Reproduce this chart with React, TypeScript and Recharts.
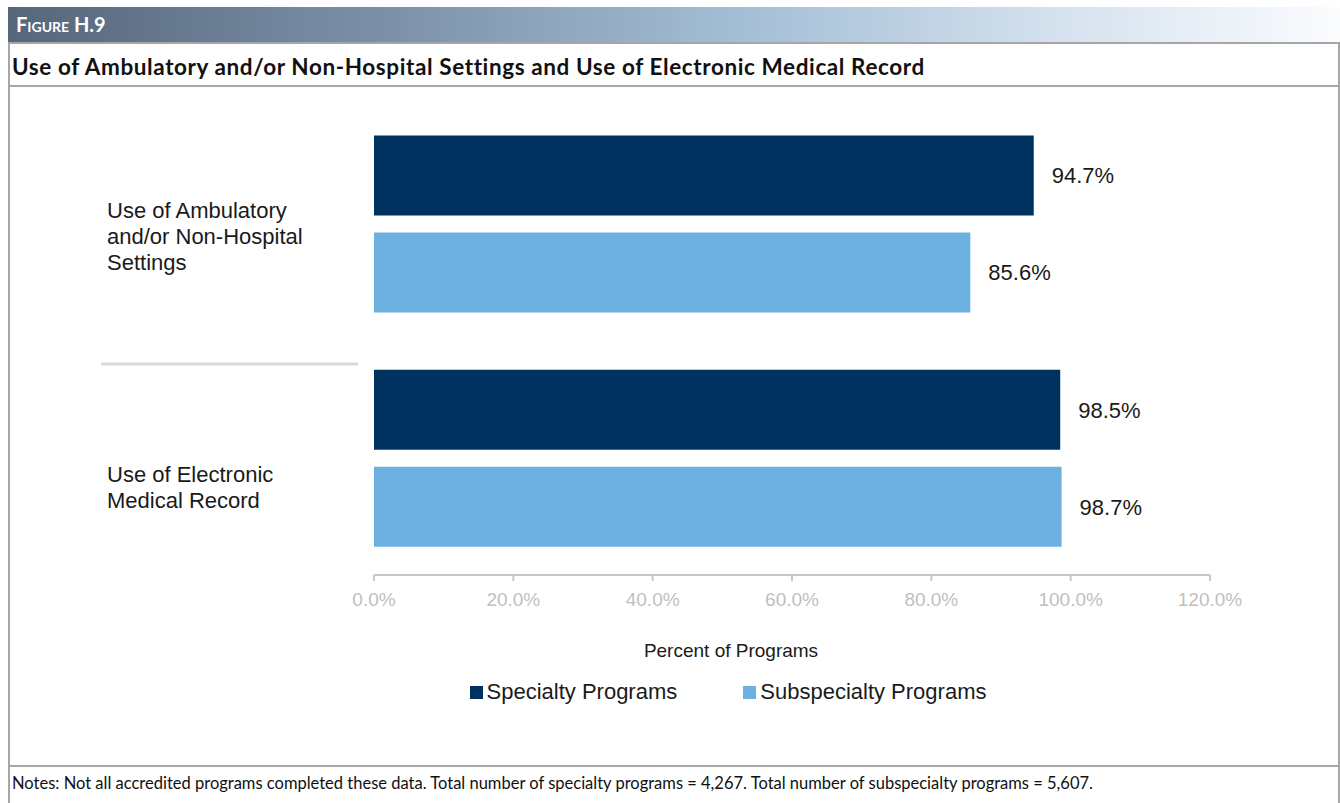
import { Bar, BarChart, Label, LabelList, Legend, XAxis, YAxis } from "recharts";

const categories = [
  "Use of Ambulatory and/or Non-Hospital Settings",
  "Use of Electronic Medical Record",
];
const categoryLines = [
  ["Use of Ambulatory", "and/or Non-Hospital", "Settings"],
  ["Use of Electronic", "Medical Record"],
];
const specialty = [94.7, 98.5];
const subspecialty = [85.6, 98.7];
const seriesNames = ["Specialty Programs", "Subspecialty Programs"];
const xTicks = [0, 20, 40, 60, 80, 100, 120];

const DARK = "#00325f";
const LIGHT = "#6db1e1";
const BORDER = "#a6a6a6";
const FONT = "'Liberation Sans', Arial, sans-serif";
const TITLE_FONT = "Lato, 'Open Sans', sans-serif";

const data = categories.map((name, i) => ({
  name,
  specialty: specialty[i],
  subspecialty: subspecialty[i],
}));

const pct = (v: number) => `${Number(v).toFixed(1)}%`;

// category label, left aligned, with the grey divider above the 2nd group
const CategoryTick = (props: any) => {
  const { y, index } = props;
  const lines = categoryLines[index] || [];
  const shift = index === 0 ? 12 : 29;
  const top = y + shift - ((lines.length - 1) * 26) / 2;
  return (
    <g>
      {index === 1 && (
        <line x1={101} x2={358} y1={y - 94} y2={y - 94} stroke="#d9d9d9" strokeWidth={3} />
      )}
      <text x={107} y={top} fontSize={22} fill="#1a1a1a" fontFamily={FONT} dominantBaseline="central">
        {lines.map((l, i) => (
          <tspan key={i} x={107} y={top + i * 26}>
            {l}
          </tspan>
        ))}
      </text>
    </g>
  );
};

const LegendContent = () => (
  <div
    style={{
      display: "flex",
      justifyContent: "center",
      paddingLeft: 246,
      paddingTop: 14,
      fontFamily: FONT,
      fontSize: 22,
      lineHeight: "26px",
      color: "#1a1a1a",
    }}
  >
    {seriesNames.map((n, i) => (
      <div key={n} style={{ display: "flex", alignItems: "center", marginRight: i === 0 ? 66 : 0 }}>
        <span style={{ width: 13, height: 13, background: i === 0 ? DARK : LIGHT, marginRight: 4 }} />
        {n}
      </div>
    ))}
  </div>
);

export default function App() {
  return (
    <div
      style={{
        position: "absolute",
        left: 0,
        top: 0,
        width: 1340,
        height: 803,
        background: "#fff",
        fontFamily: FONT,
        overflow: "hidden",
      }}
    >
      {/* frame */}
      <div
        style={{
          position: "absolute",
          left: 8,
          top: 7,
          width: 1332,
          height: 800,
          borderLeft: `2px solid ${BORDER}`,
          borderRight: `2px solid ${BORDER}`,
          boxSizing: "border-box",
        }}
      />
      <div
        style={{
          position: "absolute",
          left: 8,
          top: 7,
          width: 1332,
          height: 37,
          background:
            "linear-gradient(to right, #56667b 0%, #7b90a8 28%, #a3bed6 55%, #d7e3ef 80%, #fbfcfe 100%)",
          borderBottom: `2px solid ${BORDER}`,
          boxSizing: "border-box",
        }}
      >
        <div
          style={{
            position: "absolute",
            left: 8,
            top: 6,
            color: "#fff",
            fontFamily: TITLE_FONT,
            fontWeight: 700,
            fontSize: 20,
            fontVariant: "small-caps",
            lineHeight: "22px",
          }}
        >
          Figure H.9
        </div>
      </div>
      <div
        style={{
          position: "absolute",
          left: 12,
          top: 53,
          fontFamily: TITLE_FONT,
          fontWeight: 700,
          fontSize: 22.5,
          letterSpacing: 0.6,
          lineHeight: "28px",
          color: "#111",
          whiteSpace: "nowrap",
        }}
      >
        Use of Ambulatory and/or Non-Hospital Settings and Use of Electronic Medical Record
      </div>
      <div style={{ position: "absolute", left: 8, top: 85, width: 1332, height: 2, background: BORDER }} />
      <div style={{ position: "absolute", left: 8, top: 765, width: 1332, height: 2, background: BORDER }} />
      <div
        style={{
          position: "absolute",
          left: 12,
          top: 773,
          fontFamily: TITLE_FONT,
          fontSize: 16.5,
          lineHeight: "20px",
          color: "#111",
          whiteSpace: "nowrap",
        }}
      >
        Notes: Not all accredited programs completed these data. Total number of specialty programs = 4,267. Total
        number of subspecialty programs = 5,607.
      </div>

      <div style={{ position: "absolute", left: 0, top: 0 }}>
        <BarChart
          width={1340}
          height={715}
          data={data}
          layout="vertical"
          margin={{ top: 106.5, right: 130, left: 0, bottom: 10 }}
          barGap={17}
          barSize={80}
        >
          <XAxis
            type="number"
            domain={[0, 120]}
            ticks={xTicks}
            tickFormatter={pct}
            interval={0}
            height={90}
            stroke="#c8c8c8"
            strokeWidth={2}
            tickSize={6}
            tickMargin={12}
            tick={{ fill: "#bfbfbf", fontSize: 19, fontFamily: FONT }}
          >
            <Label
              content={(p: any) => {
                const vb = p.viewBox;
                return (
                  <text
                    x={vb.x + vb.width / 2 - 61}
                    y={vb.y + 75}
                    textAnchor="middle"
                    dominantBaseline="central"
                    fontSize={19}
                    fill="#1a1a1a"
                    fontFamily={FONT}
                  >
                    Percent of Programs
                  </text>
                );
              }}
            />
          </XAxis>
          <YAxis type="category" dataKey="name" width={374} axisLine={false} tickLine={false} tick={CategoryTick} />
          <Legend verticalAlign="bottom" wrapperStyle={{ height: 40 }} content={LegendContent} />
          <Bar dataKey="specialty" name={seriesNames[0]} fill={DARK} isAnimationActive={false}>
            <LabelList
              dataKey="specialty"
              position="right"
              offset={18}
              formatter={pct}
              style={{ fill: "#1a1a1a", fontSize: 22, fontFamily: FONT }}
            />
          </Bar>
          <Bar dataKey="subspecialty" name={seriesNames[1]} fill={LIGHT} isAnimationActive={false}>
            <LabelList
              dataKey="subspecialty"
              position="right"
              offset={18}
              formatter={pct}
              style={{ fill: "#1a1a1a", fontSize: 22, fontFamily: FONT }}
            />
          </Bar>
        </BarChart>
      </div>
    </div>
  );
}
